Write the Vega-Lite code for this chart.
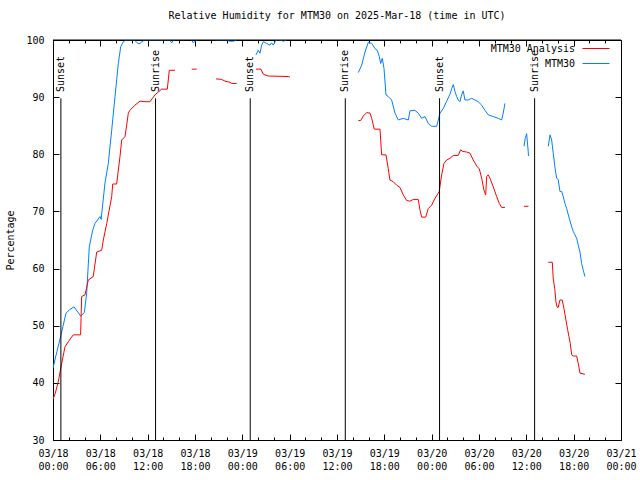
{
  "$schema": "https://vega.github.io/schema/vega-lite/v6.json",
  "autosize": {"type": "none"},
  "padding": {"left": 53, "top": 40, "right": 19, "bottom": 40},
  "width": 568,
  "height": 400,
  "background": "white",
  "title": {"text": "Relative Humidity for MTM30 on 2025-Mar-18 (time in UTC)", "font": "DejaVu Sans Mono", "fontSize": 10, "fontWeight": "normal", "color": "black", "anchor": "middle", "offset": 14},
  "config": {
    "view": {"stroke": "black", "strokeWidth": 1},
    "axis": {"labelFont": "DejaVu Sans Mono", "labelFontSize": 10, "labelColor": "black", "titleFont": "DejaVu Sans Mono", "titleFontSize": 10, "titleFontWeight": "normal", "titleColor": "black", "grid": false, "domainColor": "black", "tickColor": "black", "labelOverlap": false, "labelFlush": false},
    "legend": {"labelFont": "DejaVu Sans Mono", "labelFontSize": 10, "labelColor": "black"}
  },
  "datasets": {
    "hum": [
      {"h":0.0,"v":42.6,"s":"MTM30","g":"b1"},{"h":0.5,"v":45.5,"s":"MTM30","g":"b1"},{"h":1.0,"v":48.3,"s":"MTM30","g":"b1"},{"h":1.65,"v":52.2,"s":"MTM30","g":"b1"},{"h":2.1,"v":52.8,"s":"MTM30","g":"b1"},{"h":2.66,"v":53.3,"s":"MTM30","g":"b1"},{"h":3.51,"v":51.7,"s":"MTM30","g":"b1"},{"h":3.97,"v":52.3,"s":"MTM30","g":"b1"},{"h":4.27,"v":55.7,"s":"MTM30","g":"b1"},{"h":4.6,"v":63.8,"s":"MTM30","g":"b1"},{"h":5.03,"v":66.7,"s":"MTM30","g":"b1"},{"h":5.32,"v":67.9,"s":"MTM30","g":"b1"},{"h":5.96,"v":69.1,"s":"MTM30","g":"b1"},{"h":6.1,"v":68.6,"s":"MTM30","g":"b1"},{"h":6.59,"v":75.0,"s":"MTM30","g":"b1"},{"h":7.01,"v":78.4,"s":"MTM30","g":"b1"},{"h":7.44,"v":84.2,"s":"MTM30","g":"b1"},{"h":7.86,"v":90.1,"s":"MTM30","g":"b1"},{"h":8.28,"v":95.9,"s":"MTM30","g":"b1"},{"h":8.58,"v":98.8,"s":"MTM30","g":"b1"},{"h":8.91,"v":99.7,"s":"MTM30","g":"b1"},{"h":9.25,"v":100,"s":"MTM30","g":"b1"},{"h":10.3,"v":100,"s":"MTM30","g":"b1"},{"h":10.6,"v":99.6,"s":"MTM30","g":"b1"},{"h":10.9,"v":99.3,"s":"MTM30","g":"b1"},{"h":11.2,"v":99.6,"s":"MTM30","g":"b1"},{"h":11.6,"v":100,"s":"MTM30","g":"b1"},{"h":14.8,"v":100,"s":"MTM30","g":"b1"},{"h":15.04,"v":99.5,"s":"MTM30","g":"b1"},{"h":15.3,"v":100,"s":"MTM30","g":"b1"},{"h":15.46,"v":100,"s":"MTM30","g":"b1"},
      {"h":17.58,"v":100,"s":"MTM30","g":"b2"},{"h":17.78,"v":99.5,"s":"MTM30","g":"b2"},{"h":18.21,"v":100,"s":"MTM30","g":"b2"},
      {"h":20.66,"v":100,"s":"MTM30","g":"b3"},{"h":22.0,"v":100,"s":"MTM30","g":"b3"},{"h":22.4,"v":99.8,"s":"MTM30","g":"b3"},{"h":22.9,"v":99.8,"s":"MTM30","g":"b3"},{"h":23.28,"v":100,"s":"MTM30","g":"b3"},
      {"h":25.73,"v":97.4,"s":"MTM30","g":"b4"},{"h":26.02,"v":98.2,"s":"MTM30","g":"b4"},{"h":26.24,"v":97.7,"s":"MTM30","g":"b4"},{"h":26.45,"v":99.1,"s":"MTM30","g":"b4"},{"h":26.66,"v":99.7,"s":"MTM30","g":"b4"},{"h":27.09,"v":99.4,"s":"MTM30","g":"b4"},{"h":27.5,"v":99.1,"s":"MTM30","g":"b4"},{"h":27.71,"v":99.5,"s":"MTM30","g":"b4"},{"h":27.92,"v":99.1,"s":"MTM30","g":"b4"},{"h":28.27,"v":100,"s":"MTM30","g":"b4"},{"h":28.77,"v":100,"s":"MTM30","g":"b4"},{"h":29.2,"v":99.8,"s":"MTM30","g":"b4"},{"h":29.62,"v":100,"s":"MTM30","g":"b4"},
      {"h":38.7,"v":94.3,"s":"MTM30","g":"b5"},{"h":39.13,"v":95.6,"s":"MTM30","g":"b5"},{"h":39.55,"v":97.9,"s":"MTM30","g":"b5"},{"h":39.97,"v":99.6,"s":"MTM30","g":"b5"},{"h":40.4,"v":99.4,"s":"MTM30","g":"b5"},{"h":40.81,"v":98.5,"s":"MTM30","g":"b5"},{"h":41.11,"v":98.2,"s":"MTM30","g":"b5"},{"h":41.36,"v":97.1,"s":"MTM30","g":"b5"},{"h":41.54,"v":95.9,"s":"MTM30","g":"b5"},{"h":41.74,"v":96.8,"s":"MTM30","g":"b5"},{"h":41.96,"v":95.0,"s":"MTM30","g":"b5"},{"h":42.21,"v":90.4,"s":"MTM30","g":"b5"},{"h":42.5,"v":90.1,"s":"MTM30","g":"b5"},{"h":42.93,"v":89.5,"s":"MTM30","g":"b5"},{"h":43.35,"v":87.2,"s":"MTM30","g":"b5"},{"h":43.77,"v":86.0,"s":"MTM30","g":"b5"},{"h":44.4,"v":86.3,"s":"MTM30","g":"b5"},{"h":45.04,"v":86.0,"s":"MTM30","g":"b5"},{"h":45.25,"v":87.6,"s":"MTM30","g":"b5"},{"h":45.88,"v":87.7,"s":"MTM30","g":"b5"},{"h":46.3,"v":87.2,"s":"MTM30","g":"b5"},{"h":46.73,"v":86.3,"s":"MTM30","g":"b5"},{"h":47.15,"v":86.6,"s":"MTM30","g":"b5"},{"h":47.57,"v":85.4,"s":"MTM30","g":"b5"},{"h":48.0,"v":84.9,"s":"MTM30","g":"b5"},{"h":48.64,"v":84.9,"s":"MTM30","g":"b5"},{"h":48.84,"v":86.0,"s":"MTM30","g":"b5"},{"h":49.05,"v":87.2,"s":"MTM30","g":"b5"},{"h":49.47,"v":88.0,"s":"MTM30","g":"b5"},{"h":49.9,"v":89.3,"s":"MTM30","g":"b5"},{"h":50.32,"v":90.5,"s":"MTM30","g":"b5"},{"h":50.54,"v":91.5,"s":"MTM30","g":"b5"},{"h":50.74,"v":92.2,"s":"MTM30","g":"b5"},{"h":50.95,"v":91.0,"s":"MTM30","g":"b5"},{"h":51.17,"v":90.1,"s":"MTM30","g":"b5"},{"h":51.37,"v":89.5,"s":"MTM30","g":"b5"},{"h":51.58,"v":89.2,"s":"MTM30","g":"b5"},{"h":51.8,"v":90.4,"s":"MTM30","g":"b5"},{"h":52.0,"v":91.1,"s":"MTM30","g":"b5"},{"h":52.22,"v":89.5,"s":"MTM30","g":"b5"},{"h":52.64,"v":89.5,"s":"MTM30","g":"b5"},{"h":53.07,"v":89.8,"s":"MTM30","g":"b5"},{"h":53.49,"v":89.5,"s":"MTM30","g":"b5"},{"h":53.9,"v":89.2,"s":"MTM30","g":"b5"},{"h":54.34,"v":88.6,"s":"MTM30","g":"b5"},{"h":54.75,"v":87.7,"s":"MTM30","g":"b5"},{"h":55.17,"v":86.9,"s":"MTM30","g":"b5"},{"h":55.8,"v":86.6,"s":"MTM30","g":"b5"},{"h":56.44,"v":86.3,"s":"MTM30","g":"b5"},{"h":56.87,"v":86.0,"s":"MTM30","g":"b5"},{"h":57.07,"v":87.2,"s":"MTM30","g":"b5"},{"h":57.29,"v":88.9,"s":"MTM30","g":"b5"},
      {"h":59.7,"v":81.4,"s":"MTM30","g":"b6"},{"h":59.86,"v":82.8,"s":"MTM30","g":"b6"},{"h":60.04,"v":83.6,"s":"MTM30","g":"b6"},{"h":60.11,"v":82.5,"s":"MTM30","g":"b6"},{"h":60.24,"v":80.5,"s":"MTM30","g":"b6"},{"h":60.27,"v":79.7,"s":"MTM30","g":"b6"},
      {"h":62.78,"v":81.4,"s":"MTM30","g":"b7"},{"h":63.0,"v":83.4,"s":"MTM30","g":"b7"},{"h":63.21,"v":82.5,"s":"MTM30","g":"b7"},{"h":63.41,"v":80.2,"s":"MTM30","g":"b7"},{"h":63.62,"v":77.8,"s":"MTM30","g":"b7"},{"h":63.84,"v":75.8,"s":"MTM30","g":"b7"},{"h":64.04,"v":75.6,"s":"MTM30","g":"b7"},{"h":64.26,"v":73.5,"s":"MTM30","g":"b7"},{"h":64.47,"v":73.5,"s":"MTM30","g":"b7"},{"h":64.68,"v":72.6,"s":"MTM30","g":"b7"},{"h":64.89,"v":71.4,"s":"MTM30","g":"b7"},{"h":65.11,"v":70.5,"s":"MTM30","g":"b7"},{"h":65.32,"v":69.4,"s":"MTM30","g":"b7"},{"h":65.75,"v":67.3,"s":"MTM30","g":"b7"},{"h":65.95,"v":66.5,"s":"MTM30","g":"b7"},{"h":66.16,"v":65.9,"s":"MTM30","g":"b7"},{"h":66.38,"v":65.3,"s":"MTM30","g":"b7"},{"h":66.58,"v":64.1,"s":"MTM30","g":"b7"},{"h":66.8,"v":62.9,"s":"MTM30","g":"b7"},{"h":67.01,"v":60.9,"s":"MTM30","g":"b7"},{"h":67.22,"v":59.7,"s":"MTM30","g":"b7"},{"h":67.43,"v":58.6,"s":"MTM30","g":"b7"},
      {"h":0.0,"v":37.1,"s":"MTM30 Analysis","g":"r1"},{"h":0.29,"v":38.2,"s":"MTM30 Analysis","g":"r1"},{"h":0.67,"v":40.2,"s":"MTM30 Analysis","g":"r1"},{"h":1.1,"v":43.4,"s":"MTM30 Analysis","g":"r1"},{"h":1.52,"v":46.3,"s":"MTM30 Analysis","g":"r1"},{"h":1.94,"v":47.2,"s":"MTM30 Analysis","g":"r1"},{"h":2.57,"v":48.4,"s":"MTM30 Analysis","g":"r1"},{"h":3.5,"v":48.4,"s":"MTM30 Analysis","g":"r1"},{"h":3.63,"v":55.1,"s":"MTM30 Analysis","g":"r1"},{"h":4.06,"v":55.4,"s":"MTM30 Analysis","g":"r1"},{"h":4.47,"v":58.0,"s":"MTM30 Analysis","g":"r1"},{"h":5.1,"v":58.6,"s":"MTM30 Analysis","g":"r1"},{"h":5.54,"v":62.9,"s":"MTM30 Analysis","g":"r1"},{"h":6.17,"v":63.2,"s":"MTM30 Analysis","g":"r1"},{"h":6.38,"v":65.0,"s":"MTM30 Analysis","g":"r1"},{"h":6.81,"v":67.9,"s":"MTM30 Analysis","g":"r1"},{"h":7.44,"v":72.6,"s":"MTM30 Analysis","g":"r1"},{"h":7.57,"v":74.8,"s":"MTM30 Analysis","g":"r1"},{"h":8.07,"v":74.8,"s":"MTM30 Analysis","g":"r1"},{"h":8.49,"v":79.6,"s":"MTM30 Analysis","g":"r1"},{"h":8.71,"v":82.5,"s":"MTM30 Analysis","g":"r1"},{"h":9.13,"v":83.1,"s":"MTM30 Analysis","g":"r1"},{"h":9.55,"v":87.2,"s":"MTM30 Analysis","g":"r1"},{"h":9.76,"v":87.7,"s":"MTM30 Analysis","g":"r1"},{"h":10.39,"v":88.6,"s":"MTM30 Analysis","g":"r1"},{"h":11.03,"v":89.3,"s":"MTM30 Analysis","g":"r1"},{"h":11.66,"v":89.2,"s":"MTM30 Analysis","g":"r1"},{"h":12.29,"v":89.2,"s":"MTM30 Analysis","g":"r1"},{"h":12.93,"v":90.4,"s":"MTM30 Analysis","g":"r1"},{"h":13.78,"v":91.4,"s":"MTM30 Analysis","g":"r1"},{"h":14.49,"v":91.4,"s":"MTM30 Analysis","g":"r1"},{"h":14.74,"v":94.7,"s":"MTM30 Analysis","g":"r1"},{"h":15.46,"v":94.7,"s":"MTM30 Analysis","g":"r1"},
      {"h":17.58,"v":94.9,"s":"MTM30 Analysis","g":"r2"},{"h":18.21,"v":94.9,"s":"MTM30 Analysis","g":"r2"},
      {"h":20.66,"v":93.2,"s":"MTM30 Analysis","g":"r3"},{"h":21.38,"v":93.1,"s":"MTM30 Analysis","g":"r3"},{"h":21.8,"v":92.8,"s":"MTM30 Analysis","g":"r3"},{"h":22.43,"v":92.6,"s":"MTM30 Analysis","g":"r3"},{"h":22.65,"v":92.4,"s":"MTM30 Analysis","g":"r3"},{"h":23.28,"v":92.4,"s":"MTM30 Analysis","g":"r3"},
      {"h":25.73,"v":94.9,"s":"MTM30 Analysis","g":"r4"},{"h":26.36,"v":94.9,"s":"MTM30 Analysis","g":"r4"},{"h":26.66,"v":94.0,"s":"MTM30 Analysis","g":"r4"},{"h":27.3,"v":93.7,"s":"MTM30 Analysis","g":"r4"},{"h":29.83,"v":93.6,"s":"MTM30 Analysis","g":"r4"},{"h":30.04,"v":93.5,"s":"MTM30 Analysis","g":"r4"},
      {"h":38.7,"v":85.9,"s":"MTM30 Analysis","g":"r5"},{"h":39.0,"v":85.9,"s":"MTM30 Analysis","g":"r5"},{"h":39.33,"v":86.7,"s":"MTM30 Analysis","g":"r5"},{"h":39.76,"v":87.3,"s":"MTM30 Analysis","g":"r5"},{"h":40.18,"v":87.2,"s":"MTM30 Analysis","g":"r5"},{"h":40.4,"v":86.3,"s":"MTM30 Analysis","g":"r5"},{"h":40.72,"v":84.4,"s":"MTM30 Analysis","g":"r5"},{"h":41.45,"v":84.4,"s":"MTM30 Analysis","g":"r5"},{"h":41.66,"v":79.9,"s":"MTM30 Analysis","g":"r5"},{"h":42.21,"v":79.9,"s":"MTM30 Analysis","g":"r5"},{"h":42.5,"v":77.5,"s":"MTM30 Analysis","g":"r5"},{"h":42.71,"v":75.5,"s":"MTM30 Analysis","g":"r5"},{"h":43.13,"v":75.2,"s":"MTM30 Analysis","g":"r5"},{"h":43.56,"v":74.6,"s":"MTM30 Analysis","g":"r5"},{"h":43.98,"v":74.2,"s":"MTM30 Analysis","g":"r5"},{"h":44.4,"v":72.9,"s":"MTM30 Analysis","g":"r5"},{"h":44.83,"v":71.9,"s":"MTM30 Analysis","g":"r5"},{"h":45.25,"v":71.8,"s":"MTM30 Analysis","g":"r5"},{"h":45.67,"v":72.1,"s":"MTM30 Analysis","g":"r5"},{"h":46.3,"v":72.1,"s":"MTM30 Analysis","g":"r5"},{"h":46.51,"v":70.3,"s":"MTM30 Analysis","g":"r5"},{"h":46.73,"v":69.0,"s":"MTM30 Analysis","g":"r5"},{"h":47.24,"v":69.0,"s":"MTM30 Analysis","g":"r5"},{"h":47.57,"v":70.5,"s":"MTM30 Analysis","g":"r5"},{"h":48.0,"v":71.1,"s":"MTM30 Analysis","g":"r5"},{"h":48.42,"v":72.3,"s":"MTM30 Analysis","g":"r5"},{"h":48.71,"v":72.9,"s":"MTM30 Analysis","g":"r5"},{"h":48.96,"v":73.5,"s":"MTM30 Analysis","g":"r5"},{"h":49.05,"v":74.4,"s":"MTM30 Analysis","g":"r5"},{"h":49.27,"v":76.4,"s":"MTM30 Analysis","g":"r5"},{"h":49.56,"v":78.4,"s":"MTM30 Analysis","g":"r5"},{"h":49.9,"v":79.0,"s":"MTM30 Analysis","g":"r5"},{"h":50.32,"v":79.3,"s":"MTM30 Analysis","g":"r5"},{"h":50.74,"v":79.8,"s":"MTM30 Analysis","g":"r5"},{"h":51.37,"v":79.8,"s":"MTM30 Analysis","g":"r5"},{"h":51.67,"v":80.8,"s":"MTM30 Analysis","g":"r5"},{"h":51.93,"v":80.5,"s":"MTM30 Analysis","g":"r5"},{"h":52.43,"v":80.4,"s":"MTM30 Analysis","g":"r5"},{"h":52.85,"v":80.2,"s":"MTM30 Analysis","g":"r5"},{"h":53.27,"v":79.0,"s":"MTM30 Analysis","g":"r5"},{"h":53.78,"v":77.8,"s":"MTM30 Analysis","g":"r5"},{"h":54.03,"v":77.5,"s":"MTM30 Analysis","g":"r5"},{"h":54.34,"v":75.8,"s":"MTM30 Analysis","g":"r5"},{"h":54.63,"v":73.7,"s":"MTM30 Analysis","g":"r5"},{"h":54.85,"v":72.9,"s":"MTM30 Analysis","g":"r5"},{"h":54.97,"v":76.1,"s":"MTM30 Analysis","g":"r5"},{"h":55.17,"v":76.4,"s":"MTM30 Analysis","g":"r5"},{"h":55.39,"v":75.8,"s":"MTM30 Analysis","g":"r5"},{"h":55.81,"v":74.3,"s":"MTM30 Analysis","g":"r5"},{"h":56.24,"v":72.6,"s":"MTM30 Analysis","g":"r5"},{"h":56.57,"v":71.4,"s":"MTM30 Analysis","g":"r5"},{"h":56.87,"v":70.7,"s":"MTM30 Analysis","g":"r5"},{"h":57.29,"v":70.7,"s":"MTM30 Analysis","g":"r5"},
      {"h":59.7,"v":70.9,"s":"MTM30 Analysis","g":"r6"},{"h":60.27,"v":70.9,"s":"MTM30 Analysis","g":"r6"},
      {"h":62.78,"v":61.1,"s":"MTM30 Analysis","g":"r7"},{"h":63.29,"v":61.1,"s":"MTM30 Analysis","g":"r7"},{"h":63.41,"v":58.3,"s":"MTM30 Analysis","g":"r7"},{"h":63.62,"v":56.3,"s":"MTM30 Analysis","g":"r7"},{"h":63.75,"v":54.2,"s":"MTM30 Analysis","g":"r7"},{"h":63.92,"v":53.2,"s":"MTM30 Analysis","g":"r7"},{"h":64.04,"v":53.2,"s":"MTM30 Analysis","g":"r7"},{"h":64.26,"v":54.5,"s":"MTM30 Analysis","g":"r7"},{"h":64.55,"v":54.5,"s":"MTM30 Analysis","g":"r7"},{"h":64.77,"v":53.0,"s":"MTM30 Analysis","g":"r7"},{"h":65.02,"v":51.0,"s":"MTM30 Analysis","g":"r7"},{"h":65.24,"v":49.3,"s":"MTM30 Analysis","g":"r7"},{"h":65.4,"v":48.1,"s":"MTM30 Analysis","g":"r7"},{"h":65.57,"v":46.9,"s":"MTM30 Analysis","g":"r7"},{"h":65.75,"v":44.9,"s":"MTM30 Analysis","g":"r7"},{"h":65.95,"v":44.7,"s":"MTM30 Analysis","g":"r7"},{"h":66.38,"v":44.7,"s":"MTM30 Analysis","g":"r7"},{"h":66.58,"v":43.4,"s":"MTM30 Analysis","g":"r7"},{"h":66.8,"v":41.7,"s":"MTM30 Analysis","g":"r7"},{"h":67.43,"v":41.5,"s":"MTM30 Analysis","g":"r7"}
    ],
    "sun": [
      {"t":1.0,"label":"Sunset"},{"t":13.0,"label":"Sunrise"},{"t":25.0,"label":"Sunset"},{"t":37.05,"label":"Sunrise"},{"t":49.0,"label":"Sunset"},{"t":61.05,"label":"Sunrise"}
    ]
  },
  "layer": [
    {
      "data": {"name": "hum"},
      "mark": {"type": "line", "strokeWidth": 1, "clip": true},
      "encoding": {
        "x": {"field": "h", "type": "quantitative", "scale": {"domain": [0, 72], "nice": false, "zero": false},
              "axis": {"orient": "bottom", "title": null, "values": [0,2,4,6,8,10,12,14,16,18,20,22,24,26,28,30,32,34,36,38,40,42,44,46,48,50,52,54,56,58,60,62,64,66,68,70,72],
                       "labelExpr": "datum.value % 6 === 0 ? ['03/' + format(18 + floor(datum.value / 24), '02d'), format(datum.value % 24, '02d') + ':00'] : ''",
                       "tickSize": {"condition": {"test": "datum.value % 6 === 0", "value": -6}, "value": -3},
                       "labelPadding": 14, "labelLineHeight": 13, "labelBaseline": "top"}},
        "y": {"field": "v", "type": "quantitative", "scale": {"domain": [30, 100], "nice": false, "zero": false},
              "axis": {"orient": "left", "title": "Percentage", "values": [30,40,50,60,70,80,90,100], "tickSize": -6, "labelPadding": 15, "titlePadding": 10}},
        "color": {"field": "s", "type": "nominal", "scale": {"domain": ["MTM30 Analysis", "MTM30"], "range": ["#ff0000", "#0080ff"]},
                  "legend": {"title": null, "orient": "none", "legendX": 537.5, "legendY": 3, "padding": 0, "symbolType": "M-2.7,0H2.7", "symbolSize": 100, "symbolStrokeWidth": 1, "labelAlign": "right", "labelOffset": -26.5, "rowPadding": 4}},
        "detail": {"field": "g", "type": "nominal"}
      }
    },
    {
      "data": {"values": [{"edge": "top"}]},
      "mark": {"type": "rule", "color": "black", "strokeWidth": 1},
      "encoding": {"y": {"datum": 100, "type": "quantitative", "axis": null}}
    },
    {
      "data": {"name": "sun"},
      "mark": {"type": "rule", "color": "black", "strokeWidth": 1},
      "encoding": {
        "x": {"field": "t", "type": "quantitative",
              "axis": {"orient": "top", "title": null, "labels": false, "domain": false, "values": [0,2,4,6,8,10,12,14,16,18,20,22,24,26,28,30,32,34,36,38,40,42,44,46,48,50,52,54,56,58,60,62,64,66,68,70,72],
                       "tickSize": {"condition": {"test": "datum.value % 6 === 0", "value": -6}, "value": -3}}},
        "y": {"datum": 89.8, "type": "quantitative", "axis": {"orient": "right", "title": null, "labels": false, "domain": false, "values": [30,40,50,60,70,80,90,100], "tickSize": -6}},
        "y2": {"datum": 30}
      }
    },
    {
      "data": {"name": "sun"},
      "mark": {"type": "text", "angle": 270, "align": "left", "baseline": "middle", "font": "DejaVu Sans Mono", "fontSize": 10, "color": "black"},
      "encoding": {
        "x": {"field": "t", "type": "quantitative", "axis": null},
        "y": {"datum": 90.9, "type": "quantitative", "axis": null},
        "text": {"field": "label"}
      }
    }
  ],
  "resolve": {"axis": {"x": "independent", "y": "independent"}}
}
